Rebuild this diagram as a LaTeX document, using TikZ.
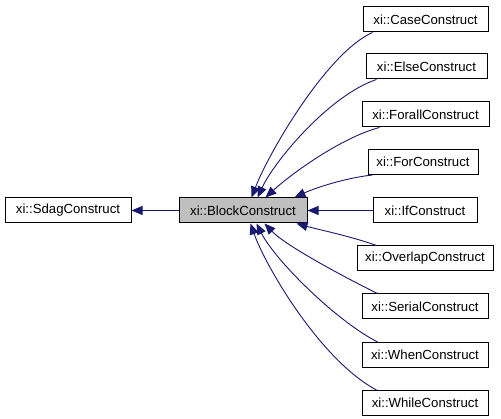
\documentclass[tikz,border=0pt]{standalone}
\usepackage{fontspec}
\setmainfont{Liberation Sans}
\usetikzlibrary{arrows.meta}
\definecolor{edgeblue}{HTML}{191970}
\definecolor{boxgray}{HTML}{BFBFBF}
\begin{document}
\begin{tikzpicture}[x=1pt,y=-1pt,
  cls/.style={draw=black, line width=1pt, fill=white, minimum height=25pt, inner sep=0pt,
    font=\fontsize{13.2}{15}\selectfont},
  cur/.style={cls, fill=boxgray},
  inh/.style={draw=edgeblue, line width=0.9pt, {Triangle[length=11pt,width=9pt]}-}]
\useasboundingbox (0,0) rectangle (501,419);
\node[cls, minimum width=126pt] (sdag) at (68,210.5) {xi::SdagConstruct};
\node[cur, minimum width=128pt] (block) at (243,210.5) {xi::BlockConstruct};
\node[cls, minimum width=125pt] (case) at (425.5,19.5) {xi::CaseConstruct};
\node[cls, minimum width=121pt] (else) at (426.5,66.5) {xi::ElseConstruct};
\node[cls, minimum width=127pt] (forall) at (425.5,114.5) {xi::ForallConstruct};
\node[cls, minimum width=110pt] (for) at (423,162) {xi::ForConstruct};
\node[cls, minimum width=104pt] (if) at (425,210.5) {xi::IfConstruct};
\node[cls, minimum width=136pt] (overlap) at (425,258.5) {xi::OverlapConstruct};
\node[cls, minimum width=126pt] (serial) at (425,306.5) {xi::SerialConstruct};
\node[cls, minimum width=126pt] (when) at (425,355) {xi::WhenConstruct};
\node[cls, minimum width=126pt] (while) at (425,403) {xi::WhileConstruct};

\draw[inh] (sdag.east) -- (block.west);
\draw[inh] (block.east) -- (if.west);
\draw[inh] ([xshift=73pt]block.north west) .. controls (270,150) and (328,52) .. ([xshift=10pt]case.south west);
\draw[inh] ([xshift=79pt]block.north west) .. controls (275,160) and (330,95) .. ([xshift=11pt]else.south west);
\draw[inh] ([xshift=87pt]block.north west) .. controls (290,175) and (340,138) .. ([xshift=18pt]forall.south west);
\draw[inh] ([xshift=116pt]block.north west) .. controls (315,188) and (345,178) .. ([xshift=5pt]for.south west);
\draw[inh] ([xshift=118pt]block.south west) .. controls (320,230) and (350,236) .. ([xshift=20pt]overlap.north west);
\draw[inh] ([xshift=86pt]block.south west) .. controls (285,245) and (340,275) .. ([xshift=16pt]serial.north west);
\draw[inh] ([xshift=78pt]block.south west) .. controls (275,260) and (335,320) .. ([xshift=16pt]when.north west);
\draw[inh] ([xshift=72pt]block.south west) .. controls (265,265) and (320,360) .. ([xshift=15pt]while.north west);
\end{tikzpicture}
\end{document}
